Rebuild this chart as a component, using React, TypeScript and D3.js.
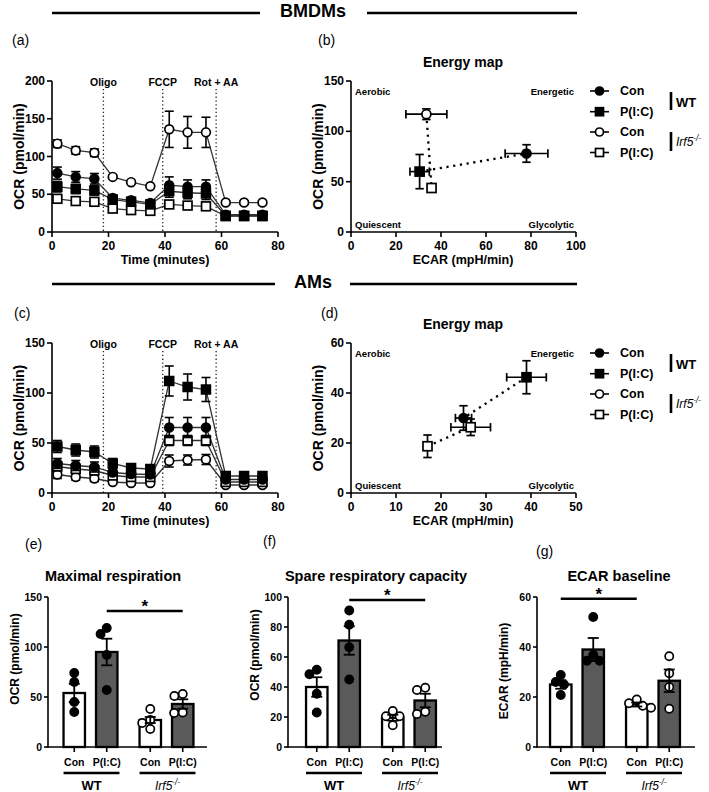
import React from "react";
import * as d3 from "d3";

const FONT = "'Liberation Sans', Arial, Helvetica, sans-serif";

// ---------- groups / legend ----------
const legendLabels = ["Con", "P(I:C)", "Con", "P(I:C)"];
const markerShapes = ["circle", "square", "circle", "square"];
const markerFilled = [true, true, false, false];
const genotypes = ["WT", "Irf5"];
const treatments = ["Con", "P(I:C)"];

// ---------- time course (a, c) ----------
const times = [1.9, 8.4, 15, 21.5, 28, 34.8, 41.5, 48, 54.5, 61.5, 68, 74.5];
const injectionLabels = ["Oligo", "FCCP", "Rot + AA"];
const injectionTimes = [18.2, 39.2, 58.1];
const timeTicks = [0, 20, 40, 60, 80];

// BMDMs OCR (pmol/min)
const bmdmWtCon = [78, 73, 70.5, 45, 42, 38.5, 62, 60, 60, 23, 23, 23];
const bmdmWtConSem = [8, 7, 7, 4, 4, 4, 11, 9, 9, 2, 2, 2];
const bmdmWtPIC = [60, 57, 55, 43, 40, 36.5, 54, 52, 51, 21.5, 21.5, 21.5];
const bmdmWtPICSem = [7, 6, 6, 3, 3, 3, 8, 8, 8, 2, 2, 2];
const bmdmIrfCon = [117, 108, 105, 73, 66, 60.5, 136, 132, 132, 39, 39, 39];
const bmdmIrfConSem = [5, 5, 5, 2, 2, 2, 24, 21, 20, 2, 2, 2];
const bmdmIrfPIC = [44, 41, 40, 31, 29, 28, 36.5, 35, 34, 21, 21, 21];
const bmdmIrfPICSem = [3, 3, 3, 2, 2, 2, 3, 3, 3, 1, 1, 1];
const bmdmOcrTicks = [0, 50, 100, 150, 200];

// AMs OCR (pmol/min)
const amWtCon = [29.5, 27.5, 26, 20.5, 19, 18.5, 65.5, 65.5, 65.5, 13.5, 13.5, 13.5];
const amWtConSem = [5, 5, 5, 3, 3, 3, 10, 10, 10, 2, 2, 2];
const amWtPIC = [46.5, 43, 41, 29.5, 25, 24, 112, 106, 103.5, 17, 17, 17];
const amWtPICSem = [6, 6, 6, 5, 4, 4, 15, 13, 12, 3, 3, 3];
const amIrfCon = [18.5, 16, 14.5, 11, 10, 10, 32, 33, 33.5, 8, 8, 8];
const amIrfConSem = [4, 3, 3, 2, 2, 2, 6, 5, 5, 1, 1, 1];
const amIrfPIC = [26.5, 24, 22.5, 17.5, 16, 16, 52.5, 52.5, 52.5, 11, 11, 11];
const amIrfPICSem = [4, 4, 4, 3, 3, 3, 5, 5, 5, 2, 2, 2];
const amOcrTicks = [0, 50, 100, 150];

// ---------- energy maps (b, d) ----------
const quadrantLabels = ["Aerobic", "Energetic", "Quiescent", "Glycolytic"];
const bmdmMapEcar = [78, 30.5, 33.5, 35.8];
const bmdmMapEcarSem = [9.5, 4.3, 9.1, 1.5];
const bmdmMapOcr = [78, 60, 117, 43.7];
const bmdmMapOcrSem = [8.7, 17, 5.3, 2];
const bmdmMapEcarTicks = [0, 20, 40, 60, 80, 100];
const bmdmMapOcrTicks = [0, 50, 100, 150];

const amMapEcar = [25, 39, 17, 26.6];
const amMapEcarSem = [1.8, 4.4, 0, 4.4];
const amMapOcr = [30, 46.3, 18.7, 26.3];
const amMapOcrSem = [4.9, 6.6, 4.5, 3.3];
const amMapShapes = ["circle", "square", "square", "square"];
const amMapEcarTicks = [0, 10, 20, 30, 40, 50];
const amMapOcrTicks = [0, 20, 40, 60];

// ---------- bar panels (e, f, g) ----------
const maxMeans = [54, 95, 27, 43];
const maxSem = [9.2, 13.3, 3, 4.7];
const maxWtCon = [74, 65, 45, 35];
const maxWtPIC = [119, 113, 92, 57];
const maxIrfCon = [38, 27, 24, 18];
const maxIrfPIC = [53, 51, 34.5, 34];
const maxTicks = [0, 50, 100, 150];

const spareMeans = [40, 71, 19.5, 31];
const spareSem = [6.5, 9.5, 2, 4.5];
const spareWtCon = [51.5, 48.5, 35.5, 23];
const spareWtPIC = [91, 81.5, 66.5, 45];
const spareIrfCon = [24, 20.5, 20.5, 14.5];
const spareIrfPIC = [39.5, 38, 23.5, 22];
const spareTicks = [0, 20, 40, 60, 80, 100];

const ecarMeans = [25, 39, 17, 26.5];
const ecarSem = [1.7, 4.6, 0.8, 4.5];
const ecarWtCon = [28.8, 26, 25, 20.8];
const ecarWtPIC = [52, 36.8, 34.5, 34.5];
const ecarIrfCon = [19, 17.5, 16.5, 15.7];
const ecarIrfPIC = [36.3, 29.5, 24, 15.3];
const ecarTicks = [0, 20, 40, 60];

// ---------- helpers ----------
function Marker({ cx, cy, shape, filled, r = 4.4 }: any) {
  const fill = filled ? "#000" : "#fff";
  if (shape === "square")
    return <rect x={cx - r} y={cy - r} width={2 * r} height={2 * r} fill={fill} stroke="#000" strokeWidth={1.7} />;
  return <circle cx={cx} cy={cy} r={r} fill={fill} stroke="#000" strokeWidth={1.7} />;
}

function YAxis({ scale, x, ticks, fontSize, tickLen = 5 }: any) {
  const [r0, r1] = scale.range();
  return (
    <g>
      <line x1={x} x2={x} y1={r0 + 0.8} y2={r1} stroke="#000" strokeWidth={1.6} />
      {ticks.map((t: number) => (
        <g key={t}>
          <line x1={x - tickLen} x2={x} y1={scale(t)} y2={scale(t)} stroke="#000" strokeWidth={1.6} />
          <text x={x - tickLen - 2} y={scale(t)} textAnchor="end" dominantBaseline="central" fontSize={fontSize} fontWeight="bold">
            {t}
          </text>
        </g>
      ))}
    </g>
  );
}

function XAxis({ scale, y, ticks, fontSize, tickLen = 5 }: any) {
  const [r0, r1] = scale.range();
  return (
    <g>
      <line x1={r0 - 0.8} x2={r1} y1={y} y2={y} stroke="#000" strokeWidth={1.6} />
      {ticks.map((t: number) => (
        <g key={t}>
          <line x1={scale(t)} x2={scale(t)} y1={y} y2={y + tickLen} stroke="#000" strokeWidth={1.6} />
          <text x={scale(t)} y={y + 18} textAnchor="middle" fontSize={fontSize} fontWeight="bold">
            {t}
          </text>
        </g>
      ))}
    </g>
  );
}

function ErrY({ x, y0, y1, cap = 4.5, w = 1.5 }: any) {
  return (
    <g stroke="#000" strokeWidth={w}>
      <line x1={x} x2={x} y1={y0} y2={y1} />
      <line x1={x - cap} x2={x + cap} y1={y0} y2={y0} />
      <line x1={x - cap} x2={x + cap} y1={y1} y2={y1} />
    </g>
  );
}
function ErrX({ y, x0, x1, cap = 4.5, w = 1.5 }: any) {
  return (
    <g stroke="#000" strokeWidth={w}>
      <line x1={x0} x2={x1} y1={y} y2={y} />
      <line x1={x0} x2={x0} y1={y - cap} y2={y + cap} />
      <line x1={x1} x2={x1} y1={y - cap} y2={y + cap} />
    </g>
  );
}

function Irf5Label({ x, y, fontSize = 12, anchor = "start" }: any) {
  return (
    <text x={x} y={y} fontSize={fontSize} fontStyle="italic" textAnchor={anchor}>
      Irf5
      <tspan dy={-fontSize * 0.42} fontSize={fontSize * 0.68}>-/-</tspan>
    </text>
  );
}

function Header({ label, y, leftEnd, rightStart }: any) {
  return (
    <g>
      <line x1={52} x2={leftEnd} y1={y + 2} y2={y + 2} stroke="#000" strokeWidth={2.6} />
      <line x1={rightStart} x2={577} y1={y + 2} y2={y + 2} stroke="#000" strokeWidth={2.6} />
      <text x={313} y={y} textAnchor="middle" dominantBaseline="central" fontSize={18} fontWeight="bold">
        {label}
      </text>
    </g>
  );
}

// ---------- time-course panel ----------
function TimeCourse({ top, bottom, yMax, yTicks, values, sems }: any) {
  const x = d3.scaleLinear().domain([0, 80]).range([52, 278]);
  const y = d3.scaleLinear().domain([0, yMax]).range([bottom, top]);
  const line = d3
    .line<number>()
    .x((_, i) => x(times[i]))
    .y((d) => y(d));
  const order = [2, 3, 0, 1];
  return (
    <g>
      {injectionTimes.map((t, i) => (
        <g key={i}>
          <line x1={x(t)} x2={x(t)} y1={top + 8} y2={bottom} stroke="#222" strokeWidth={1.3} strokeDasharray="1.3,2.5" />
          <text x={x(t)} y={top + 1} textAnchor="middle" dominantBaseline="central" fontSize={10.5} fontWeight="bold">
            {injectionLabels[i]}
          </text>
        </g>
      ))}
      {order.map((k) => (
        <path key={"l" + k} d={line(values[k]) as string} fill="none" stroke="#333" strokeWidth={1.3} />
      ))}
      {order.map((k) => (
        <g key={"s" + k}>
          {values[k].map((v: number, i: number) => (
            <ErrY key={i} x={x(times[i])} y0={y(v - sems[k][i])} y1={y(v + sems[k][i])} cap={4.5} w={1.6} />
          ))}
          {values[k].map((v: number, i: number) => (
            <Marker key={"m" + i} cx={x(times[i])} cy={y(v)} shape={markerShapes[k]} filled={markerFilled[k]} />
          ))}
        </g>
      ))}
      <YAxis scale={y} x={52} ticks={yTicks} fontSize={12} />
      <XAxis scale={x} y={bottom} ticks={timeTicks} fontSize={12} />
      <text x={165} y={bottom + 32} textAnchor="middle" fontSize={12.5} fontWeight="bold">
        Time (minutes)
      </text>
      <text transform={`translate(19,${(top + bottom) / 2}) rotate(-90)`} textAnchor="middle" dominantBaseline="central" fontSize={14} fontWeight="bold">
        OCR (pmol/min)
      </text>
    </g>
  );
}

// ---------- energy map panel ----------
function EnergyMap({ top, bottom, xMax, xTicks, yMax, yTicks, ecar, ecarSem, ocr, ocrSem, shapes }: any) {
  const x = d3.scaleLinear().domain([0, xMax]).range([351, 576]);
  const y = d3.scaleLinear().domain([0, yMax]).range([bottom, top]);
  const pairs = [
    [2, 3],
    [1, 0],
  ];
  const legendRows = [10, 30.7, 51, 71.5];
  return (
    <g>
      <text x={463} y={top - 14} textAnchor="middle" fontSize={14} fontWeight="bold">
        Energy map
      </text>
      {pairs.map(([a, b], i) => (
        <line key={i} x1={x(ecar[a])} y1={y(ocr[a])} x2={x(ecar[b])} y2={y(ocr[b])} stroke="#000" strokeWidth={2.3} strokeDasharray="2.2,4.6" />
      ))}
      {ecar.map((v: number, k: number) => (
        <g key={k}>
          {ecarSem[k] > 0 && <ErrX y={y(ocr[k])} x0={x(v - ecarSem[k])} x1={x(v + ecarSem[k])} cap={4.2} w={1.7} />}
          {ocrSem[k] > 0 && <ErrY x={x(v)} y0={y(ocr[k] - ocrSem[k])} y1={y(ocr[k] + ocrSem[k])} cap={4.2} w={1.7} />}
          <Marker cx={x(v)} cy={y(ocr[k])} shape={shapes[k]} filled={markerFilled[k]} r={4.5} />
        </g>
      ))}
      <g fontSize={9.5} fontWeight="bold">
        <text x={355} y={top + 10} dominantBaseline="central">{quadrantLabels[0]}</text>
        <text x={574} y={top + 10} dominantBaseline="central" textAnchor="end">{quadrantLabels[1]}</text>
        <text x={355} y={bottom - 8} dominantBaseline="central">{quadrantLabels[2]}</text>
        <text x={574} y={bottom - 8} dominantBaseline="central" textAnchor="end">{quadrantLabels[3]}</text>
      </g>
      <YAxis scale={y} x={351} ticks={yTicks} fontSize={12} />
      <XAxis scale={x} y={bottom} ticks={xTicks} fontSize={12} />
      <text x={463} y={bottom + 32} textAnchor="middle" fontSize={12.5} fontWeight="bold">
        ECAR (mpH/min)
      </text>
      <text transform={`translate(318,${(top + bottom) / 2}) rotate(-90)`} textAnchor="middle" dominantBaseline="central" fontSize={14} fontWeight="bold">
        OCR (pmol/min)
      </text>
      {legendLabels.map((lab, k) => (
        <g key={k}>
          <line x1={590} x2={609} y1={top + legendRows[k]} y2={top + legendRows[k]} stroke="#000" strokeWidth={1.6} />
          <Marker cx={599.5} cy={top + legendRows[k]} shape={markerShapes[k]} filled={markerFilled[k]} r={4} />
          <text x={620} y={top + legendRows[k]} dominantBaseline="central" fontSize={12.5} fontWeight="bold">
            {lab}
          </text>
        </g>
      ))}
      <line x1={671} x2={671} y1={top + 11} y2={top + 29} stroke="#000" strokeWidth={2.6} />
      <text x={676} y={top + 21} dominantBaseline="central" fontSize={13} fontWeight="bold">
        WT
      </text>
      <line x1={671} x2={671} y1={top + 51} y2={top + 70} stroke="#000" strokeWidth={2.6} />
      <Irf5Label x={676} y={top + 65} fontSize={12} />
    </g>
  );
}

// ---------- beeswarm offsets ----------
function swarm(ys: number[], d: number): number[] {
  const placed: { x: number; y: number }[] = [];
  return ys.map((yv) => {
    const iv = placed
      .filter((p) => Math.abs(p.y - yv) < d)
      .map((p) => {
        const w = Math.sqrt(d * d - (p.y - yv) ** 2);
        return [p.x - w, p.x + w];
      });
    const cands = [0, ...iv.flatMap(([a, b]) => [a, b])].sort((a, b) => Math.abs(a) - Math.abs(b) || a - b);
    const xv = cands.find((c) => iv.every(([a, b]) => c <= a + 1e-6 || c >= b - 1e-6)) ?? 0;
    placed.push({ x: xv, y: yv });
    return xv;
  });
}

// ---------- bar panel ----------
function BarPanel({ axisX, inset, axisLen, yMax, yTicks, means, sems, points, sig, title, titleX, yTitle, yTitleY }: any) {
  const base = 747;
  const y = d3.scaleLinear().domain([0, yMax]).range([base, 597]);
  const outer = d3.scaleBand().domain(genotypes).range([axisX + inset, axisX + inset + 152]).padding(0);
  const inner = d3
    .scaleBand()
    .domain(treatments)
    .range([0, outer.bandwidth()])
    .paddingInner(0.34)
    .paddingOuter(0.34);
  const bw = inner.bandwidth();
  const cx = (i: number) => (outer(genotypes[Math.floor(i / 2)]) as number) + (inner(treatments[i % 2]) as number) + bw / 2;
  const sigY = y(sig[2]);
  return (
    <g>
      <text x={titleX} y={581} textAnchor="middle" fontSize={14.5} fontWeight="bold">
        {title}
      </text>
      {means.map((m: number, i: number) => (
        <rect key={i} x={cx(i) - bw / 2} y={y(m)} width={bw} height={base - y(m)} fill={i % 2 === 0 ? "#fff" : "#5a5a5a"} stroke="#000" strokeWidth={2.3} />
      ))}
      {points.map((pts: number[], i: number) => {
        const offs = swarm(
          pts.map((p) => y(p)),
          8.6
        );
        return (
          <g key={i}>
            {pts.map((p, j) => (
              <circle key={j} cx={cx(i) + offs[j]} cy={y(p)} r={4.1} fill={i < 2 ? "#000" : "#fff"} stroke="#000" strokeWidth={1.7} />
            ))}
          </g>
        );
      })}
      {means.map((m: number, i: number) => (
        <ErrY key={i} x={cx(i)} y0={y(m - sems[i])} y1={y(m + sems[i])} cap={5.5} w={1.8} />
      ))}
      <line x1={axisX} x2={axisX} y1={base + 0.8} y2={597} stroke="#000" strokeWidth={1.6} />
      {yTicks.map((t: number) => (
        <g key={t}>
          <line x1={axisX - 4} x2={axisX} y1={y(t)} y2={y(t)} stroke="#000" strokeWidth={1.6} />
          <text x={axisX - 6} y={y(t)} textAnchor="end" dominantBaseline="central" fontSize={10.5} fontWeight="bold">
            {t}
          </text>
        </g>
      ))}
      <line x1={axisX - 0.8} x2={axisX + axisLen} y1={base} y2={base} stroke="#000" strokeWidth={1.6} />
      {means.map((_: number, i: number) => (
        <g key={i}>
          <line x1={cx(i)} x2={cx(i)} y1={base} y2={base + 5} stroke="#000" strokeWidth={1.6} />
          <text x={cx(i)} y={766} textAnchor="middle" fontSize={10.5} fontWeight="bold">
            {legendLabels[i]}
          </text>
        </g>
      ))}
      {genotypes.map((g, gi) => {
        const l = cx(gi * 2) - bw / 2;
        const r = cx(gi * 2 + 1) + bw / 2 + 2;
        return (
          <g key={g}>
            <line x1={l} x2={r} y1={773} y2={773} stroke="#000" strokeWidth={2.4} />
            {g === "WT" ? (
              <text x={(l + r) / 2} y={790} textAnchor="middle" fontSize={13} fontWeight="bold">
                WT
              </text>
            ) : (
              <Irf5Label x={(l + r) / 2} y={790} fontSize={12} anchor="middle" />
            )}
          </g>
        );
      })}
      <line x1={cx(sig[0])} x2={cx(sig[1])} y1={sigY} y2={sigY} stroke="#000" strokeWidth={2.4} />
      <text x={(cx(sig[0]) + cx(sig[1])) / 2} y={sigY + 1} textAnchor="middle" fontSize={17} fontWeight="bold">
        *
      </text>
      <text transform={`translate(${axisX - 33},${yTitleY}) rotate(-90)`} textAnchor="middle" dominantBaseline="central" fontSize={12} fontWeight="bold">
        {yTitle}
      </text>
    </g>
  );
}

export default function App() {
  return (
    <svg width={709} height={792} viewBox="0 0 709 792" style={{ position: "absolute", left: 0, top: 0, background: "#fff" }} fontFamily={FONT} fill="#000">
      <rect width={709} height={792} fill="#fff" />
      <Header label="BMDMs" y={11} leftEnd={260} rightStart={367} />
      <Header label="AMs" y={282} leftEnd={275} rightStart={350} />

      <g fontSize={14}>
        <text x={12} y={45}>(a)</text>
        <text x={318} y={45}>(b)</text>
        <text x={14} y={318}>(c)</text>
        <text x={321} y={318}>(d)</text>
        <text x={25} y={549}>(e)</text>
        <text x={263} y={546}>(f)</text>
        <text x={536} y={556}>(g)</text>
      </g>

      <TimeCourse
        top={81}
        bottom={232}
        yMax={200}
        yTicks={bmdmOcrTicks}
        values={[bmdmWtCon, bmdmWtPIC, bmdmIrfCon, bmdmIrfPIC]}
        sems={[bmdmWtConSem, bmdmWtPICSem, bmdmIrfConSem, bmdmIrfPICSem]}
      />
      <TimeCourse
        top={343}
        bottom={493}
        yMax={150}
        yTicks={amOcrTicks}
        values={[amWtCon, amWtPIC, amIrfCon, amIrfPIC]}
        sems={[amWtConSem, amWtPICSem, amIrfConSem, amIrfPICSem]}
      />
      <EnergyMap
        top={81}
        bottom={232}
        xMax={100}
        xTicks={bmdmMapEcarTicks}
        yMax={150}
        yTicks={bmdmMapOcrTicks}
        ecar={bmdmMapEcar}
        ecarSem={bmdmMapEcarSem}
        ocr={bmdmMapOcr}
        ocrSem={bmdmMapOcrSem}
        shapes={markerShapes}
      />
      <EnergyMap
        top={343}
        bottom={493}
        xMax={50}
        xTicks={amMapEcarTicks}
        yMax={60}
        yTicks={amMapOcrTicks}
        ecar={amMapEcar}
        ecarSem={amMapEcarSem}
        ocr={amMapOcr}
        ocrSem={amMapOcrSem}
        shapes={amMapShapes}
      />

      <BarPanel
        axisX={48}
        inset={4.5}
        axisLen={159}
        yMax={150}
        yTicks={maxTicks}
        means={maxMeans}
        sems={maxSem}
        points={[maxWtCon, maxWtPIC, maxIrfCon, maxIrfPIC]}
        sig={[1, 3, 136]}
        title="Maximal respiration"
        titleX={113}
        yTitle="OCR (pmol/min)"
        yTitleY={659}
      />
      <BarPanel
        axisX={288}
        inset={7}
        axisLen={154}
        yMax={100}
        yTicks={spareTicks}
        means={spareMeans}
        sems={spareSem}
        points={[spareWtCon, spareWtPIC, spareIrfCon, spareIrfPIC]}
        sig={[1, 3, 98]}
        title="Spare respiratory capacity"
        titleX={376}
        yTitle="OCR (pmol/min)"
        yTitleY={655}
      />
      <BarPanel
        axisX={537}
        inset={2}
        axisLen={158}
        yMax={60}
        yTicks={ecarTicks}
        means={ecarMeans}
        sems={ecarSem}
        points={[ecarWtCon, ecarWtPIC, ecarIrfCon, ecarIrfPIC]}
        sig={[0, 2, 59.3]}
        title="ECAR baseline"
        titleX={619}
        yTitle="ECAR (mpH/min)"
        yTitleY={671}
      />
    </svg>
  );
}
